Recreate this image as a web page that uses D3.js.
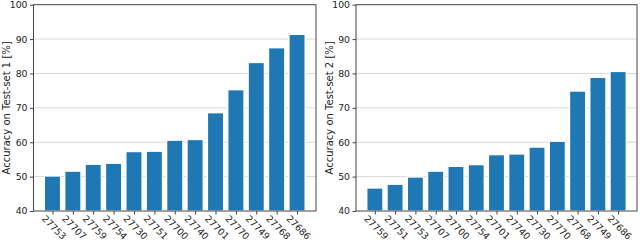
<!DOCTYPE html>
<html><head><meta charset="utf-8">
<script src="https://cdn.jsdelivr.net/npm/d3@7"></script>
<style>body{margin:0;background:#fff}svg{display:block}text{font-family:"DejaVu Sans",sans-serif}</style>
</head><body>
<svg id="c" width="640" height="241"></svg>
<script>
const cats1 = ["27753","27707","27759","27754","27730","27751","27700","27740","27701","27770","27749","27768","27686"];
const vals1 = [50.2,51.6,53.6,53.9,57.3,57.4,60.6,60.8,68.6,75.3,83.2,87.5,91.4];
const cats2 = ["27759","27751","27753","27707","27700","27754","27701","27740","27730","27770","27768","27749","27686"];
const vals2 = [46.7,47.8,49.9,51.6,53.0,53.5,56.4,56.6,58.6,60.3,74.9,78.9,80.6];
const yTicks = [40,50,60,70,80,90,100];
const yLabels = ["Accuracy on Test-set 1 [%]","Accuracy on Test-set 2 [%]"];

const svg = d3.select("#c");
const plotTop = 4.7, plotBottom = 211;
function panel(x0, x1, cats, vals, label){
  const g = svg.append("g");
  const x = d3.scaleLinear().domain([-0.93, cats.length - 1 + 0.93]).range([x0, x1]);
  const y = d3.scaleLinear().domain([40,100]).range([plotBottom, plotTop]);
  const bw = (x(1)-x(0))*0.8;
  g.selectAll(".grid").data(yTicks.filter(t=>t>40&&t<100)).join("line")
    .attr("x1",x0).attr("x2",x1).attr("y1",d=>y(d)).attr("y2",d=>y(d))
    .attr("stroke","#d9d9d9").attr("stroke-width",1);
  g.selectAll(".bar").data(vals).join("rect")
    .attr("x",(d,i)=>x(i)-bw/2).attr("width",bw)
    .attr("y",d=>y(d)).attr("height",d=>plotBottom-y(d))
    .attr("fill","#1f77b4").attr("stroke","#ffffff").attr("stroke-width",1.4);
  g.append("rect").attr("x",x0).attr("y",plotTop).attr("width",x1-x0).attr("height",plotBottom-plotTop)
    .attr("fill","none").attr("stroke","#444").attr("stroke-width",1);
  const ya = g.append("g").attr("transform",`translate(${x0},0)`)
    .call(d3.axisLeft(y).tickValues(yTicks).tickSize(3.5).tickPadding(2.5));
  ya.select(".domain").remove();
  ya.selectAll("text").attr("font-size",9.3).attr("fill","#222").style("font-family","DejaVu Sans");
  ya.selectAll("line").attr("stroke","#444");
  const xa = g.append("g").attr("transform",`translate(0,${plotBottom})`)
    .call(d3.axisBottom(x).tickValues(d3.range(cats.length)).tickFormat(i=>cats[i]).tickSize(3.5));
  xa.select(".domain").remove();
  xa.selectAll("line").attr("stroke","#444");
  xa.selectAll("text").attr("font-size",9.3).attr("fill","#222").style("font-family","DejaVu Sans")
    .attr("text-anchor","middle").attr("y",0).attr("dy","0.35em")
    .attr("transform","translate(1,16.5) rotate(45)");
  g.append("text").attr("transform",`translate(${x0-27},${(plotTop+plotBottom)/2}) rotate(-90)`)
    .attr("text-anchor","middle").attr("dominant-baseline","central")
    .attr("font-size",10).attr("fill","#222").text(label);
}
panel(33.5, 316, cats1, vals1, yLabels[0]);
panel(356, 637, cats2, vals2, yLabels[1]);
</script>
</body></html>
